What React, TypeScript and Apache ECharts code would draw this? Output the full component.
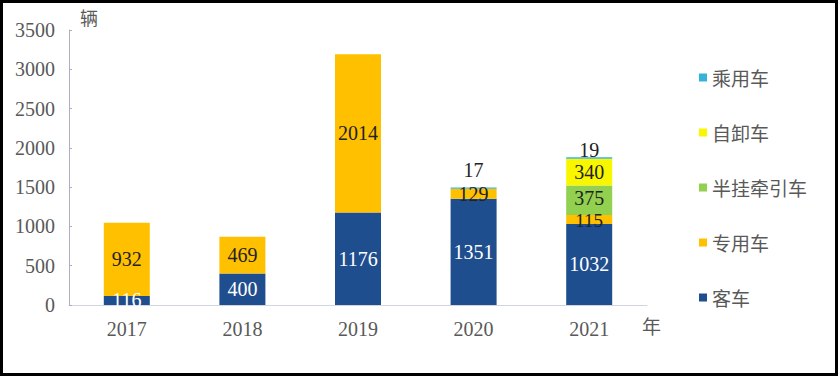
import React, { useEffect, useRef } from "react";
import * as echarts from "echarts";

const years = ["2017", "2018", "2019", "2020", "2021"];
const bus = [116, 400, 1176, 1351, 1032];
const special = [932, 469, 2014, 129, 115];
const tractor = [null, null, null, null, 375];
const dump = [null, null, null, null, 340];
const passenger = [null, null, null, 17, 19];
const seriesNames = ["客车", "专用车", "半挂牵引车", "自卸车", "乘用车"];
const legendOrder = ["乘用车", "自卸车", "半挂牵引车", "专用车", "客车"];
const colors = ["#1F4E8F", "#FFC000", "#92D050", "#F9F700", "#36B3D9"];

const serif = "Liberation Serif";
const cjk = "Noto Sans CJK SC";

export default function App() {
  const ref = useRef<HTMLDivElement>(null);
  useEffect(() => {
    document.body.style.margin = "0";
    const chart = echarts.init(ref.current!, null, { renderer: "svg" });
    const datasets = [bus, special, tractor, dump, passenger];
    const series = datasets.map((d, i) => ({
      name: seriesNames[i],
      type: "bar",
      stack: "total",
      barWidth: 46,
      itemStyle: { color: colors[i] },
      label: {
        show: true,
        position: i === 4 ? "top" : "inside",
        distance: -2,
        color: i === 0 ? "#FFFFFF" : "#222222",
        fontFamily: serif,
        fontSize: 20,
        lineHeight: 18,
        offset: i === 2 ? [0, -2] : [0, 0],
      },
      data: d.map((v, j) => {
        if (i === 4 && j === 3 && v != null) return { value: v, label: { distance: 8 } };
        if (i === 1 && j === 4) return { value: v, label: { fontSize: 19, lineHeight: 14, offset: [0, 1] } };
        return v;
      }),
    }));
    chart.setOption({
      animation: false,
      grid: { left: 66, right: 188, top: 27, bottom: 68 },
      legend: {
        data: legendOrder,
        orient: "vertical",
        left: 691,
        top: 60,
        itemGap: 36,
        itemWidth: 8,
        itemHeight: 8,
        icon: "rect",
        textStyle: { fontFamily: cjk, fontSize: 19, color: "#595959" },
      },
      xAxis: {
        type: "category",
        data: years,
        axisLine: { lineStyle: { color: "#D0D5DE" } },
        axisTick: { show: false },
        axisLabel: { fontFamily: serif, fontSize: 20, color: "#595959", margin: 14 },
      },
      yAxis: {
        type: "value",
        min: 0,
        max: 3500,
        interval: 500,
        axisLine: { show: true, lineStyle: { color: "#A9B1C0" } },
        axisTick: { show: true, inside: true, length: 3, lineStyle: { color: "#A9B1C0" } },
        splitLine: { show: false },
        axisLabel: {
          fontFamily: serif,
          fontSize: 20,
          color: "#595959",
          margin: 14,
          formatter: (v: number) => String(v),
        },
      },
      graphic: [
        {
          type: "text",
          left: 77,
          top: 5,
          style: { text: "辆", font: `18px '${cjk}'`, fill: "#595959" },
        },
        {
          type: "text",
          left: 639,
          top: 313,
          style: { text: "年", font: `19px '${cjk}'`, fill: "#595959" },
        },
      ],
      series,
    });
    return () => chart.dispose();
  }, []);
  return (
    <div
      style={{
        width: 838,
        height: 376,
        boxSizing: "border-box",
        border: "3px solid #000",
        background: "#fff",
      }}
    >
      <div ref={ref} style={{ width: 832, height: 370 }} />
    </div>
  );
}
